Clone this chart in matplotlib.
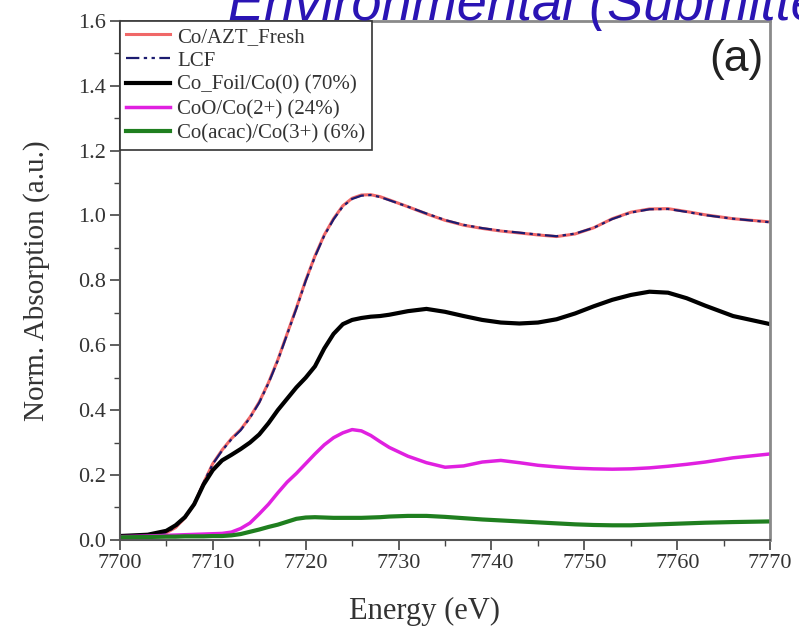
import matplotlib
matplotlib.use('Agg')
import matplotlib.pyplot as plt
from matplotlib.ticker import MultipleLocator

plt.rcParams['font.family'] = ['Liberation Serif', 'DejaVu Serif']

# energy grid (eV)
energy = [7700, 7703, 7705, 7706, 7707, 7708, 7709, 7710, 7711, 7712, 7713, 7714,
          7715, 7716, 7717, 7718, 7719, 7720, 7721, 7722, 7723, 7724, 7725, 7726,
          7727, 7728, 7729, 7731, 7733, 7735, 7737, 7739, 7741, 7743, 7745, 7747,
          7749, 7751, 7753, 7755, 7757, 7759, 7761, 7763, 7766, 7770]

fresh = [0.010, 0.013, 0.022, 0.038, 0.068, 0.110, 0.175, 0.235, 0.277, 0.312, 0.340, 0.378,
         0.425, 0.485, 0.555, 0.635, 0.715, 0.800, 0.875, 0.940, 0.990, 1.030, 1.053, 1.063,
         1.064, 1.058, 1.048, 1.027, 1.005, 0.985, 0.970, 0.960, 0.952, 0.946, 0.940, 0.935,
         0.943, 0.962, 0.990, 1.010, 1.020, 1.021, 1.012, 1.002, 0.990, 0.980]
lcf = [0.010, 0.013, 0.023, 0.040, 0.070, 0.112, 0.176, 0.234, 0.275, 0.310, 0.338, 0.376,
       0.423, 0.483, 0.553, 0.633, 0.713, 0.798, 0.873, 0.938, 0.988, 1.028, 1.051, 1.061,
       1.063, 1.057, 1.047, 1.027, 1.006, 0.986, 0.971, 0.961, 0.953, 0.947, 0.941, 0.936,
       0.944, 0.962, 0.989, 1.009, 1.019, 1.020, 1.011, 1.001, 0.990, 0.979]
co_foil = [0.012, 0.016, 0.028, 0.045, 0.070, 0.110, 0.170, 0.215, 0.245, 0.262, 0.280, 0.300,
           0.325, 0.360, 0.400, 0.435, 0.470, 0.500, 0.535, 0.590, 0.635, 0.665, 0.678, 0.684,
           0.688, 0.690, 0.694, 0.705, 0.712, 0.703, 0.690, 0.678, 0.670, 0.667, 0.670, 0.680,
           0.698, 0.720, 0.740, 0.755, 0.765, 0.762, 0.745, 0.722, 0.690, 0.665]
coo = [0.010, 0.012, 0.014, 0.015, 0.016, 0.017, 0.018, 0.019, 0.020, 0.024, 0.035, 0.052,
       0.080, 0.110, 0.145, 0.178, 0.205, 0.235, 0.265, 0.293, 0.315, 0.330, 0.340, 0.336,
       0.322, 0.303, 0.285, 0.258, 0.238, 0.224, 0.228, 0.240, 0.245, 0.238, 0.230, 0.225,
       0.221, 0.219, 0.218, 0.219, 0.222, 0.227, 0.233, 0.240, 0.253, 0.265]
coacac = [0.008, 0.009, 0.010, 0.010, 0.011, 0.011, 0.011, 0.012, 0.012, 0.014, 0.018, 0.025,
          0.032, 0.040, 0.047, 0.056, 0.065, 0.069, 0.070, 0.069, 0.068, 0.068, 0.068, 0.068,
          0.069, 0.070, 0.072, 0.074, 0.074, 0.071, 0.067, 0.063, 0.060, 0.057, 0.054, 0.051,
          0.048, 0.046, 0.045, 0.045, 0.047, 0.049, 0.051, 0.053, 0.055, 0.057]

labels = ['Co/AZT_Fresh', 'LCF', 'Co_Foil/Co(0) (70%)', 'CoO/Co(2+) (24%)',
          'Co(acac)/Co(3+) (6%)']

fig = plt.figure(figsize=(7.99, 6.3), dpi=100)
ax = fig.add_axes([0.150, 0.143, 0.814, 0.824])

ax.plot(energy, fresh, color='#f06868', lw=2.2, label=labels[0])
ax.plot(energy, lcf, color='#1c1c70', lw=1.6, dashes=(6, 2, 1.5, 2, 1.5, 2), label=labels[1])
ax.plot(energy, co_foil, color='black', lw=3, label=labels[2])
ax.plot(energy, coo, color='#e020e0', lw=2.5, label=labels[3])
ax.plot(energy, coacac, color='#1f7f1f', lw=3, label=labels[4])

ax.set_xlim(7700, 7770)
ax.set_ylim(0, 1.6)
ax.xaxis.set_major_locator(MultipleLocator(10))
ax.xaxis.set_minor_locator(MultipleLocator(5))
ax.yaxis.set_major_locator(MultipleLocator(0.2))
ax.yaxis.set_minor_locator(MultipleLocator(0.1))
ax.yaxis.set_major_formatter(plt.FormatStrFormatter('%.1f'))
ax.tick_params(which='major', direction='out', length=7, width=1.2, labelsize=16,
               color='#444444', labelcolor='#333333', pad=3)
ax.tick_params(which='minor', direction='out', length=4, width=1.0, color='#444444')

for s in ['left', 'bottom']:
    ax.spines[s].set_color('#555555')
    ax.spines[s].set_linewidth(1.5)
for s in ['top', 'right']:
    ax.spines[s].set_color('#8a8a8a')
    ax.spines[s].set_linewidth(2)

ax.set_xlabel('Energy (eV)', fontsize=22, color='#333333')
ax.xaxis.set_label_coords(0.469, -0.11)
ax.set_ylabel('Norm. Absorption (a.u.)', fontsize=21, color='#333333', labelpad=20)

leg = ax.legend(loc='upper left', fontsize=15, handlelength=2.1, handletextpad=0.35,
                labelspacing=0.22, borderpad=0.3, borderaxespad=0, fancybox=False,
                framealpha=1, edgecolor='#333333')
leg.get_frame().set_linewidth(1.2)
for t in leg.get_texts():
    t.set_color('#333333')

ax.text(0.99, 0.965, '(a)', transform=ax.transAxes, ha='right', va='top',
        fontsize=32, family='Liberation Sans', color='#222222')

fig.text(228 / 799, 1 - 20 / 630, 'Environmental (Submitted)', fontsize=39,
         style='italic', family='Liberation Sans', color='#2a14b4', va='baseline')

fig.savefig('out.png', dpi=100)
